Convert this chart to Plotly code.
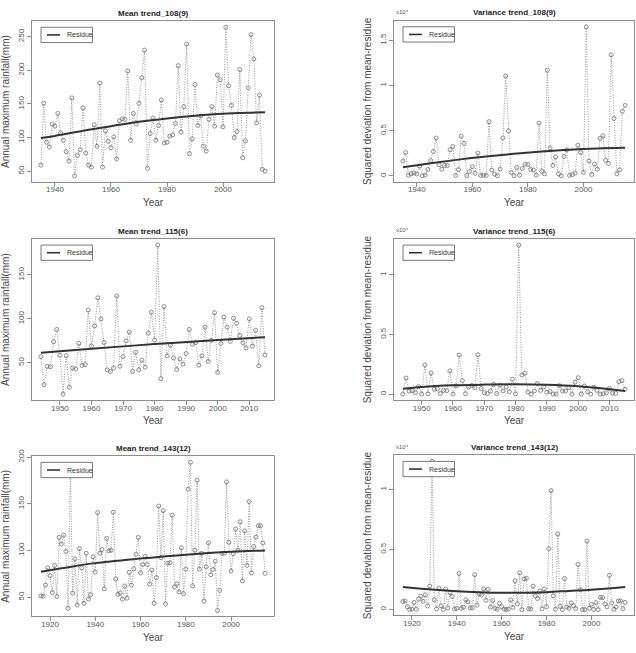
import plotly.graph_objects as go

# ---------------- data ----------------
years_108 = list(range(1935, 2016))
mean_108 = [59, 151, 93, 86, 120, 117, 136, 107, 96, 79, 65, 159, 43, 73.5, 82, 144, 77, 59, 56, 119,
            87, 181, 56, 110, 94.5, 85, 101, 68, 125, 128, 127, 199, 96, 136, 120, 151, 189, 230, 54.4, 106,
            129, 96, 118, 156, 92, 93, 102, 104, 121, 207, 108, 146, 239, 76, 98, 179, 118, 132, 87, 80,
            127, 146, 117, 193, 186, 116, 264, 177, 148, 100, 109, 201, 70, 95, 174, 253, 217, 122, 163, 53,
            50]
var_108 = [0.164, 0.259, 0.006, 0.023, 0.033, 0.021, 0.107, 0.001, 0.008, 0.070, 0.170, 0.270, 0.419, 0.123,
           0.074, 0.116, 0.114, 0.290, 0.325, 0.004, 0.070, 0.440, 0.360, 0.003, 0.048, 0.102, 0.028, 0.253,
           0.004, 0.007, 0.005, 0.600, 0.065, 0.019, 0.001, 0.076, 0.420, 1.105, 0.498, 0.038, 0.001, 0.093,
           0.008, 0.081, 0.130, 0.126, 0.072, 0.064, 0.008, 0.585, 0.051, 0.023, 1.170, 0.310, 0.116, 0.210,
           0.022, 0.000, 0.215, 0.288, 0.005, 0.014, 0.031, 0.338, 0.258, 0.038, 1.650, 0.165, 0.015, 0.130,
           0.074, 0.417, 0.443, 0.174, 0.138, 1.340, 0.635, 0.023, 0.066, 0.715, 0.780]
trend_yr_108 = [1935, 1940, 1950, 1960, 1970, 1980, 1990, 2000, 2010, 2015]
mean_trend_108 = [99.5, 102.5, 110, 117, 123.5, 128.5, 132.5, 135.5, 137, 137.5]
vtrend_yr_108 = [1935, 1945, 1955, 1965, 1975, 1985, 1995, 2005, 2015]
var_trend_108 = [0.095, 0.14, 0.18, 0.215, 0.245, 0.27, 0.29, 0.303, 0.31]

years_115 = list(range(1944, 2016))
mean_115 = [57, 25, 46, 45.5, 74, 88, 58.6, 14.3, 58, 22, 44, 43, 72, 47, 48, 110, 69, 92, 124, 100,
            73, 42, 40, 44, 126, 46, 57, 75, 85, 40, 62, 42, 53, 45, 84, 107.5, 76, 184, 32, 114,
            58, 70, 55.6, 42.5, 54.5, 48.5, 60.5, 88, 71, 73, 47.4, 58, 90.6, 51.5, 75.6, 107, 39, 72,
            102, 90.6, 74.4, 100.8, 95, 81, 72.5, 67, 100, 69, 87, 46.6, 112.8, 59]
var_115 = [0.002, 0.135, 0.026, 0.028, 0.013, 0.064, 0.002, 0.245, 0.003, 0.178, 0.040, 0.045, 0.006, 0.032,
           0.029, 0.195, 0.001, 0.069, 0.328, 0.114, 0.004, 0.061, 0.073, 0.054, 0.330, 0.047, 0.012, 0.005,
           0.027, 0.083, 0.005, 0.074, 0.027, 0.061, 0.020, 0.125, 0.003, 1.248, 0.160, 0.175, 0.018, 0.000,
           0.027, 0.089, 0.032, 0.059, 0.016, 0.022, 0.001, 0.000, 0.071, 0.026, 0.026, 0.054, 0.000, 0.101,
           0.138, 0.001, 0.068, 0.021, 0.000, 0.058, 0.032, 0.001, 0.003, 0.012, 0.048, 0.009, 0.007, 0.105,
           0.113, 0.041]
trend_yr_115 = [1944, 1960, 1980, 2000, 2015]
mean_trend_115 = [61.5, 66, 71.3, 76, 79.2]
vtrend_yr_115 = [1944, 1950, 1960, 1970, 1980, 1990, 2000, 2008, 2015]
var_trend_115 = [0.045, 0.06, 0.074, 0.08, 0.082, 0.078, 0.066, 0.048, 0.027]

years_143 = list(range(1916, 2016))
mean_143 = [51.4, 51, 63, 81.5, 73, 55, 84, 50.7, 114, 107, 116.4, 99, 38, 190, 54.5, 91, 41.6, 102, 81.5, 43.4,
            97, 48, 52.8, 93.4, 77, 140.6, 97, 101, 59, 113, 99.6, 100.3, 141, 69.6, 53, 54.5, 48, 62, 49, 76.6,
            63, 80.4, 96, 114, 76, 85, 93.7, 85, 64, 79, 43.4, 71, 147.6, 92.3, 142.7, 42.7, 86.4, 87, 137.8, 60.8,
            64.3, 55.6, 102.8, 53.8, 80, 165.7, 194.4, 62.2, 100.3, 175.2, 80, 96.9, 45.8, 82.5, 108, 74, 79.7, 88.5, 35.7, 57.3,
            96.9, 97.2, 173.4, 108.7, 78, 96.5, 123, 100.3, 130.8, 67.5, 121, 84, 152.4, 76, 104.2, 114.3, 126.6, 126.6, 108, 75.5]
var_143 = [0.067, 0.071, 0.023, 0.001, 0.004, 0.059, 0.002, 0.087, 0.112, 0.068, 0.123, 0.030, 0.195, 1.233, 0.081,
           0.006, 0.177, 0.032, 0.001, 0.171, 0.014, 0.140, 0.109, 0.005, 0.009, 0.300, 0.010, 0.019, 0.081, 0.064,
           0.013, 0.015, 0.290, 0.037, 0.130, 0.121, 0.172, 0.077, 0.168, 0.019, 0.076, 0.011, 0.003, 0.052, 0.024,
           0.004, 0.000, 0.005, 0.080, 0.018, 0.240, 0.048, 0.305, 0.000, 0.255, 0.260, 0.006, 0.005, 0.195, 0.114,
           0.092, 0.154, 0.006, 0.172, 0.024, 0.505, 0.990, 0.115, 0.002, 0.630, 0.027, 0.000, 0.258, 0.021, 0.011,
           0.055, 0.032, 0.008, 0.375, 0.166, 0.000, 0.000, 0.570, 0.010, 0.043, 0.001, 0.058, 0.000, 0.101, 0.100,
           0.047, 0.023, 0.285, 0.055, 0.002, 0.021, 0.072, 0.072, 0.007, 0.060]
trend_yr_143 = [1916, 1930, 1940, 1950, 1960, 1970, 1980, 1990, 2000, 2015]
mean_trend_143 = [77.3, 83, 86.5, 89, 91.5, 93.5, 95.5, 97.3, 98.7, 100]
var_trend_143 = [0.187, 0.165, 0.153, 0.145, 0.14, 0.14, 0.145, 0.155, 0.165, 0.187]

# ---------------- styling / layout ----------------
W, H = 636, 653
FONT = "Liberation Sans, Arial, Helvetica, sans-serif"
PT_COL = "#707070"
LN_COL = "#8a8a8a"
TR_COL = "#333333"
AX_COL = "#8c8c8c"
TXT_COL = "#444444"

panels = [
    dict(title="Mean trend_108(9)", yrs=years_108, vals=mean_108, tyrs=trend_yr_108, tv=mean_trend_108,
         ytitle="Annual maximum rainfall(mm)", xr=[1931.8, 2018.2], yr=[34.2, 272.8],
         xt=[1940, 1960, 1980, 2000], yt=[50, 100, 150, 200, 250], ytt=None,
         box=(32, 13.5, 274, 176), sci=False),
    dict(title="Variance trend_108(9)", yrs=years_108, vals=var_108, tyrs=vtrend_yr_108, tv=var_trend_108,
         ytitle="Squared deviation from mean-residue", xr=[1931.8, 2018.2], yr=[-0.066, 1.716],
         xt=[1940, 1960, 1980, 2000], yt=[0, 0.5, 1, 1.5], ytt=["0", "0.5", "1", "1.5"],
         box=(394, 13, 634, 176), sci=True),
    dict(title="Mean trend_115(6)", yrs=years_115, vals=mean_115, tyrs=trend_yr_115, tv=mean_trend_115,
         ytitle="Annual maximum rainfall(mm)", xr=[1941.16, 2017.84], yr=[7.5, 190.8],
         xt=[1950, 1960, 1970, 1980, 1990, 2000, 2010], yt=[50, 100, 150], ytt=None,
         box=(32, 234, 274, 397), sci=False),
    dict(title="Variance trend_115(6)", yrs=years_115, vals=var_115, tyrs=vtrend_yr_115, tv=var_trend_115,
         ytitle="Squared deviation from mean-residue", xr=[1941.16, 2017.84], yr=[-0.05, 1.298],
         xt=[1950, 1960, 1970, 1980, 1990, 2000, 2010], yt=[0, 0.5, 1], ytt=["0", "0.5", "1"],
         box=(394, 234, 634, 397), sci=True),
    dict(title="Mean trend_143(12)", yrs=years_143, vals=mean_143, tyrs=trend_yr_143, tv=mean_trend_143,
         ytitle="Annual maximum rainfall(mm)", xr=[1912.04, 2018.96], yr=[29.4, 200.7],
         xt=[1920, 1940, 1960, 1980, 2000], yt=[50, 100, 150, 200], ytt=None,
         box=(32, 454, 274, 616), sci=False),
    dict(title="Variance trend_143(12)", yrs=years_143, vals=var_143, tyrs=trend_yr_143, tv=var_trend_143,
         ytitle="Squared deviation from mean-residue", xr=[1912.04, 2018.96], yr=[-0.049, 1.282],
         xt=[1920, 1940, 1960, 1980, 2000], yt=[0, 0.5, 1], ytt=["0", "0.5", "1"],
         box=(394, 453, 634, 615), sci=True),
]

fig = go.Figure()
layout = dict(width=W, height=H, margin=dict(l=0, r=0, t=0, b=0, pad=0),
              paper_bgcolor="white", plot_bgcolor="white", showlegend=False,
              font=dict(family=FONT, color=TXT_COL))
shapes, annotations = [], []

for i, p in enumerate(panels, start=1):
    xa = "x" if i == 1 else f"x{i}"
    ya = "y" if i == 1 else f"y{i}"
    L, T, R, B = p["box"]
    fig.add_trace(go.Scatter(x=p["yrs"], y=p["vals"], mode="lines+markers", xaxis=xa, yaxis=ya,
                             line=dict(color=LN_COL, width=0.9, dash="1px,1.5px"),
                             marker=dict(symbol="circle-open", size=4, color=PT_COL, line=dict(width=0.8, color=PT_COL)),
                             name="data", hoverinfo="x+y"))
    fig.add_trace(go.Scatter(x=p["tyrs"], y=p["tv"], mode="lines", xaxis=xa, yaxis=ya,
                             line=dict(color=TR_COL, width=2, shape="spline", smoothing=1.0),
                             name="Residue"))
    xkey = "xaxis" if i == 1 else f"xaxis{i}"
    ykey = "yaxis" if i == 1 else f"yaxis{i}"
    layout[xkey] = dict(domain=[L / W, R / W], anchor=ya, range=p["xr"], tickvals=p["xt"],
                        showgrid=False, zeroline=False, showline=True, mirror=True, linecolor=AX_COL, linewidth=1,
                        ticks="outside", ticklen=4, tickcolor=AX_COL, tickwidth=1, ticklabelstandoff=-4,
                        tickfont=dict(size=8, color="#555555", family=FONT),
                        title=dict(text="Year", font=dict(size=10, color="#444444", family=FONT), standoff=5))
    yax = dict(domain=[1 - B / H, 1 - T / H], anchor=xa, range=p["yr"], tickvals=p["yt"],
               showgrid=False, zeroline=False, showline=True, mirror=True, linecolor=AX_COL, linewidth=1,
               ticks="outside", ticklen=4, tickcolor=AX_COL, tickwidth=1, tickangle=-90,
               tickfont=dict(size=8, color="#555555", family=FONT),
               title=dict(text=p["ytitle"], font=dict(size=10, color="#444444", family=FONT), standoff=5))
    if p["ytt"] is not None:
        yax["ticktext"] = p["ytt"]
    layout[ykey] = yax

    # subplot title
    annotations.append(dict(text="<b>" + p["title"] + "</b>", x=(L + R) / 2 / W, y=1 - (T - 8) / H,
                            xref="paper", yref="paper", xanchor="center", yanchor="middle", showarrow=False,
                            font=dict(size=8, color="#222222", family=FONT)))
    if p["sci"]:
        annotations.append(dict(text="x10⁴", x=(L + 0.5) / W, y=1 - (T - 9) / H,
                                xref="paper", yref="paper", xanchor="left", yanchor="middle", showarrow=False,
                                font=dict(size=6, color="#555555", family=FONT)))
    # legend box
    lx0, ly0 = L + 9, T + 6
    shapes.append(dict(type="rect", xref="paper", yref="paper", layer="above",
                       x0=lx0 / W, x1=(lx0 + 51.5) / W, y0=1 - (ly0 + 15.5) / H, y1=1 - ly0 / H,
                       line=dict(color="#555555", width=0.8), fillcolor="white"))
    shapes.append(dict(type="line", xref="paper", yref="paper", layer="above",
                       x0=(lx0 + 6) / W, x1=(lx0 + 19) / W, y0=1 - (ly0 + 7.75) / H, y1=1 - (ly0 + 7.75) / H,
                       line=dict(color=TR_COL, width=1.6)))
    annotations.append(dict(text="Residue", x=(lx0 + 24) / W, y=1 - (ly0 + 7.75) / H, xref="paper", yref="paper",
                            xanchor="left", yanchor="middle", showarrow=False,
                            font=dict(size=7, color="#333333", family=FONT)))

layout["shapes"] = shapes
layout["annotations"] = annotations
fig.update_layout(**layout)
fig.write_html("out.html")
